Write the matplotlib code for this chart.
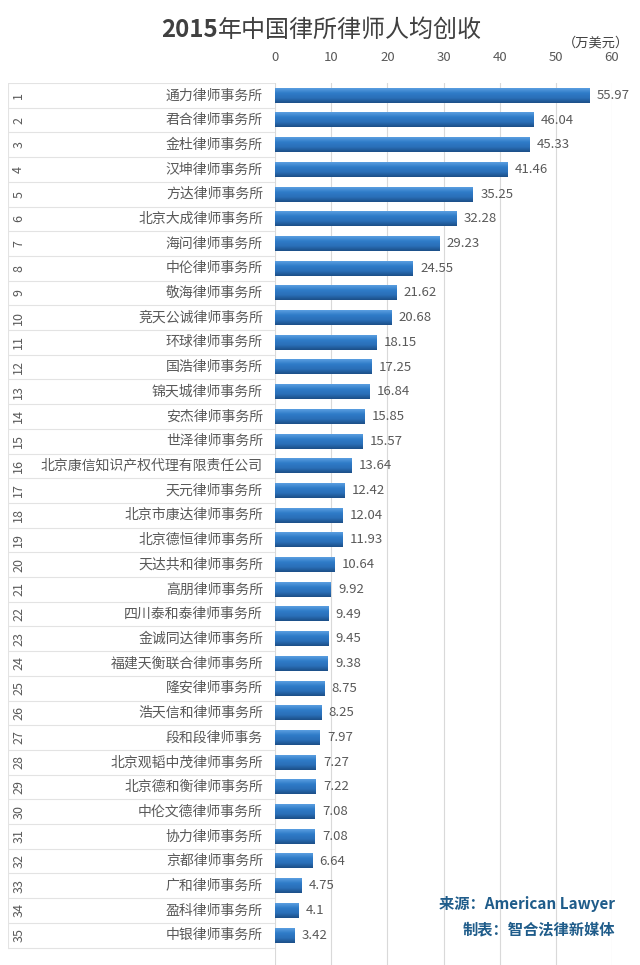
import numpy as np
import matplotlib
matplotlib.use('Agg')
import matplotlib.pyplot as plt

plt.rcParams['font.family'] = ['Noto Sans CJK SC', 'DejaVu Sans']

names = ['通力律师事务所', '君合律师事务所', '金杜律师事务所', '汉坤律师事务所', '方达律师事务所',
         '北京大成律师事务所', '海问律师事务所', '中伦律师事务所', '敬海律师事务所', '竞天公诚律师事务所',
         '环球律师事务所', '国浩律师事务所', '锦天城律师事务所', '安杰律师事务所', '世泽律师事务所',
         '北京康信知识产权代理有限责任公司', '天元律师事务所', '北京市康达律师事务所', '北京德恒律师事务所',
         '天达共和律师事务所', '高朋律师事务所', '四川泰和泰律师事务所', '金诚同达律师事务所',
         '福建天衡联合律师事务所', '隆安律师事务所', '浩天信和律师事务所', '段和段律师事务',
         '北京观韬中茂律师事务所', '北京德和衡律师事务所', '中伦文德律师事务所', '协力律师事务所',
         '京都律师事务所', '广和律师事务所', '盈科律师事务所', '中银律师事务所']
values = [55.97, 46.04, 45.33, 41.46, 35.25, 32.28, 29.23, 24.55, 21.62, 20.68,
          18.15, 17.25, 16.84, 15.85, 15.57, 13.64, 12.42, 12.04, 11.93, 10.64,
          9.92, 9.49, 9.45, 9.38, 8.75, 8.25, 7.97, 7.27, 7.22, 7.08,
          7.08, 6.64, 4.75, 4.1, 3.42]
ranks = list(range(1, len(names) + 1))
xticks = [0, 10, 20, 30, 40, 50, 60]

W, H = 640, 965
fig = plt.figure(figsize=(W / 100, H / 100), dpi=100)
fig.patch.set_facecolor('white')

n = len(names)
row_h = 24.7
top_px = 83
bot_px = 965
ylim = (-0.5 + (bot_px - top_px) / row_h, -0.5)

# 主图：条形
x0, x1 = 275, 612
ax = fig.add_axes([x0 / W, 0, (x1 - x0) / W, (H - top_px) / H])
ax.set_xlim(0, 60)
ax.set_ylim(*ylim)
ax.set_xticks(xticks)
ax.xaxis.tick_top()
ax.tick_params(axis='x', length=0, labelsize=9.5, labelcolor='#595959', pad=14)
ax.set_yticks([])
for s in ax.spines.values():
    s.set_visible(False)
ax.grid(axis='x', color='#d9d9d9', linewidth=0.8)
ax.set_axisbelow(True)

ypos = np.arange(n)
bh = 0.6
grad = np.linspace(0, 1, 50).reshape(-1, 1)
cmap = matplotlib.colors.LinearSegmentedColormap.from_list(
    'b', ['#5a9ee0', '#2f7bc8', '#2a6fb8', '#1c4f88'])
for y, v in zip(ypos, values):
    ax.imshow(grad, extent=[0, v, y + bh / 2, y - bh / 2], cmap=cmap,
              aspect='auto', zorder=2, origin='upper')
    ax.text(v + 1.3, y, f'{v:g}', va='center', ha='left',
            fontsize=9.5, color='#595959')
ax.set_xlim(0, 60)
ax.set_ylim(*ylim)

# 左侧表格
tx0 = 8
tab = fig.add_axes([tx0 / W, 0, (x0 - tx0) / W, (H - top_px) / H])
tab.set_xlim(0, 1)
tab.set_ylim(*ylim)
tab.axis('off')
for i in range(n + 1):
    tab.axhline(i - 0.5, color='#e3e3e3', linewidth=0.8)
tab.plot([0, 0], [-0.5, n - 0.5], color='#e3e3e3', linewidth=0.8)
for y, r, nm in zip(ypos, ranks, names):
    tab.text(0.04, y, str(r), rotation=90, ha='center', va='center',
             fontsize=9, color='#595959')
    tab.text(0.955, y, nm, ha='right', va='center', fontsize=10, color='#595959')

# 标题："2015"加粗，其余常规
t1 = fig.text(161 / W, 1 - 30 / H, '2015', ha='left', va='center',
              fontsize=17.3, color='#404040', fontweight='bold')
fig.canvas.draw()
bb = t1.get_window_extent()
fig.text(bb.x1 / W, 1 - 30 / H, '年中国律所律师人均创收', ha='left', va='center',
         fontsize=17.3, color='#404040')
fig.text(596 / W, 1 - 43 / H, '（万美元）', ha='center', va='center',
         fontsize=9.5, color='#404040')

fig.text(615 / W, 1 - 904 / H, '来源：American Lawyer', ha='right', va='center',
         fontsize=11, color='#1f5c8a', fontweight='bold')
fig.text(615 / W, 1 - 929 / H, '制表：智合法律新媒体', ha='right', va='center',
         fontsize=11, color='#1f5c8a', fontweight='bold')

fig.savefig('out.png', dpi=100, facecolor='white')
